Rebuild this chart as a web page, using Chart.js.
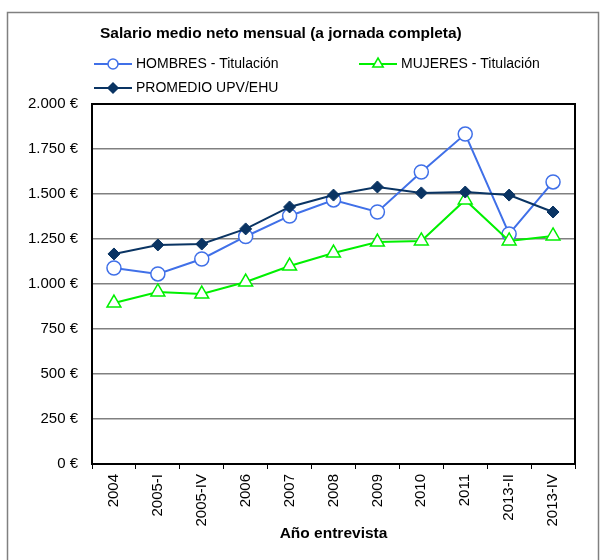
<!DOCTYPE html>
<html>
<head>
<meta charset="utf-8">
<script src="https://cdn.jsdelivr.net/npm/chart.js@4"></script>
<style>
  body { margin: 0; background: #fff; }
  canvas { display: block; }
</style>
</head>
<body>
<canvas id="chart" width="600" height="560"></canvas>
<script>
// data
const categories = ['2004', '2005-I', '2005-IV', '2006', '2007', '2008', '2009', '2010', '2011', '2013-II', '2013-IV'];
const hombres = [1089, 1056, 1139, 1264, 1378, 1467, 1400, 1622, 1833, 1278, 1567];
const mujeres = [894, 956, 944, 1011, 1100, 1172, 1233, 1239, 1467, 1239, 1267];
const promedio = [1167, 1217, 1222, 1306, 1428, 1494, 1539, 1506, 1511, 1494, 1400];
const yMax = 2000;
const yStep = 250;

const chartTitle = 'Salario medio neto mensual (a jornada completa)';
const xTitle = 'Año entrevista';

const FONT = "'Liberation Sans', Arial, sans-serif";
Chart.defaults.font.family = FONT;
Chart.defaults.color = '#000';

function euro(v) {
  return String(v).replace(/\B(?=(\d{3})+(?!\d))/g, '.') + ' €';
}

// draws a marker in the same style the datasets use
function marker(ctx, style, x, y, r, stroke) {
  ctx.save();
  ctx.fillStyle = style === 'rectRot' ? stroke : '#fff';
  ctx.strokeStyle = stroke;
  ctx.lineWidth = 1.5;
  ctx.beginPath();
  if (style === 'circle') {
    ctx.arc(x, y, r, 0, Math.PI * 2);
  } else if (style === 'triangle') {
    ctx.moveTo(x, y - r);
    ctx.lineTo(x + r * 0.87, y + r * 0.5);
    ctx.lineTo(x - r * 0.87, y + r * 0.5);
    ctx.closePath();
  } else {
    ctx.moveTo(x, y - r);
    ctx.lineTo(x + r, y);
    ctx.lineTo(x, y + r);
    ctx.lineTo(x - r, y);
    ctx.closePath();
  }
  ctx.fill();
  ctx.stroke();
  ctx.restore();
}

const framePlugin = {
  id: 'frame',
  beforeDraw(chart) {
    const ctx = chart.ctx;
    ctx.save();
    ctx.fillStyle = '#fff';
    ctx.fillRect(0, 0, chart.width, chart.height);
    ctx.strokeStyle = '#808080';
    ctx.lineWidth = 1.5;
    ctx.strokeRect(7.5, 12.5, 591, 560);
    ctx.restore();
  },
  afterDraw(chart) {
    const ctx = chart.ctx;
    const a = chart.chartArea;
    ctx.save();
    // plot box
    ctx.strokeStyle = '#000';
    ctx.lineWidth = 2;
    ctx.strokeRect(a.left, a.top, a.right - a.left, a.bottom - a.top);

    // title
    ctx.fillStyle = '#000';
    ctx.font = 'bold 15.5px ' + FONT;
    ctx.textBaseline = 'middle';
    ctx.textAlign = 'left';
    ctx.fillText(chartTitle, 100, 34);

    // legend, two columns
    const slots = [
      { x: 94, y: 64 },
      { x: 359, y: 64 },
      { x: 94, y: 88 }
    ];
    ctx.font = '14px ' + FONT;
    chart.data.datasets.forEach((ds, k) => {
      const s = slots[k];
      ctx.strokeStyle = ds.borderColor;
      ctx.lineWidth = 2;
      ctx.beginPath();
      ctx.moveTo(s.x, s.y);
      ctx.lineTo(s.x + 38, s.y);
      ctx.stroke();
      marker(ctx, ds.pointStyle, s.x + 19, s.y, ds.legendR, ds.borderColor);
      ctx.fillStyle = '#000';
      ctx.fillText(ds.label, s.x + 42, s.y);
    });
    ctx.restore();
  }
};

new Chart(document.getElementById('chart'), {
  type: 'line',
  data: {
    labels: categories,
    datasets: [
      {
        label: 'HOMBRES - Titulación',
        data: hombres,
        borderColor: '#4070E8',
        backgroundColor: '#fff',
        borderWidth: 2,
        pointStyle: 'circle',
        pointRadius: 7,
        pointBorderWidth: 1.5,
        legendR: 5,
        order: 2
      },
      {
        label: 'MUJERES - Titulación',
        data: mujeres,
        borderColor: '#00F000',
        backgroundColor: '#fff',
        borderWidth: 2,
        pointStyle: 'triangle',
        pointRadius: 8,
        pointBorderWidth: 1.5,
        legendR: 6,
        order: 1
      },
      {
        label: 'PROMEDIO UPV/EHU',
        data: promedio,
        borderColor: '#0A3463',
        backgroundColor: '#0A3463',
        borderWidth: 2,
        pointStyle: 'rectRot',
        pointRadius: 6,
        pointBorderWidth: 1,
        legendR: 5,
        order: 0
      }
    ]
  },
  options: {
    responsive: false,
    animation: false,
    layout: { padding: { top: 104, right: 25, bottom: 17, left: 0 } },
    plugins: {
      legend: { display: false },
      tooltip: { enabled: false }
    },
    elements: { line: { tension: 0 } },
    scales: {
      x: {
        offset: true,
        afterFit(scale) { scale.height = 79; },
        grid: {
          display: true,
          offset: true,
          drawOnChartArea: false,
          drawTicks: true,
          tickLength: 5,
          color: '#000'
        },
        border: { color: '#000', width: 2 },
        ticks: {
          autoSkip: false,
          maxRotation: 90,
          minRotation: 90,
          padding: 5,
          color: '#000',
          font: { size: 15 }
        },
        title: {
          display: true,
          text: xTitle,
          color: '#000',
          font: { size: 15.5, weight: 'bold' },
          padding: 0
        }
      },
      y: {
        min: 0,
        max: yMax,
        afterFit(scale) { scale.width = 92; },
        grid: { color: '#808080', lineWidth: 1.5, drawTicks: false },
        border: { color: '#000', width: 2 },
        ticks: {
          stepSize: yStep,
          padding: 14,
          color: '#000',
          font: { size: 15 },
          callback: v => euro(v)
        }
      }
    }
  },
  plugins: [framePlugin]
});
</script>
</body>
</html>
